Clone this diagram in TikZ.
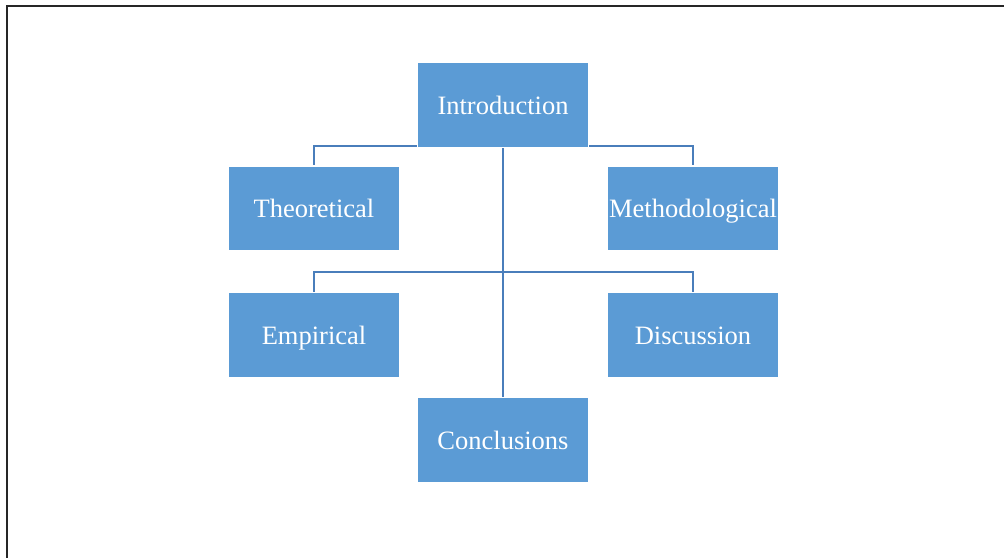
\documentclass[tikz,border=0pt]{standalone}
\usepackage{fontspec}
\setmainfont{Liberation Serif}
\usetikzlibrary{backgrounds}
\definecolor{boxblue}{HTML}{5B9BD5}
\definecolor{lineblue}{HTML}{4A7EBB}
\begin{document}
\begin{tikzpicture}[x=1pt,y=-1pt,
  box/.style={rectangle,fill=boxblue,draw=white,line width=1.2pt,minimum width=171pt,minimum height=85pt,inner sep=0pt,text height=20pt,text depth=2pt,text=white,font=\fontsize{26.5}{30}\selectfont},
  conn/.style={draw=lineblue,line width=2.3pt}]
\useasboundingbox (0,0) rectangle (1004,557);
\draw[line width=2pt,black!85] (6.5,570) -- (6.5,5.5) -- (1020,5.5);
\node[box] (intro) at (503,105) {Introduction};
\node[box] (theo) at (314,208.5) {Theoretical};
\node[box] (meth) at (693,208.5) {Methodological};
\node[box] (emp) at (314,335) {Empirical};
\node[box] (disc) at (693,335) {Discussion};
\node[box] (concl) at (503,440) {Conclusions};
\begin{scope}[on background layer]
\draw[conn] (theo.north) -- ++(0,-19.5) -| (meth.north);
\draw[conn] (emp.north) -- ++(0,-20) -| (disc.north);
\draw[conn] (intro.south) -- (concl.north);
\end{scope}
\end{tikzpicture}
\end{document}
